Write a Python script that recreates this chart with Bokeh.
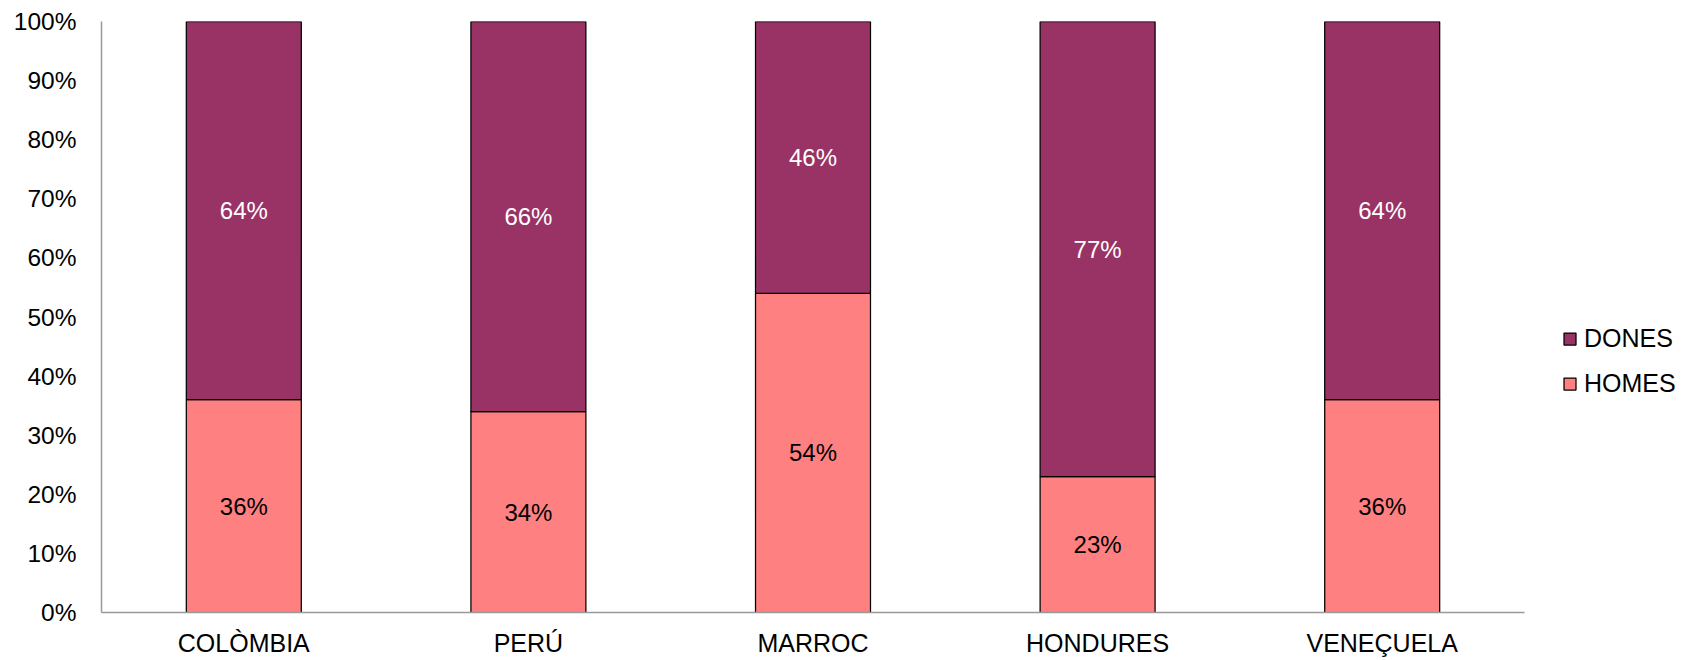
from bokeh.plotting import figure
from bokeh.models import (ColumnDataSource, Range1d, FixedTicker,
                          NumeralTickFormatter, Legend, LegendItem)
from bokeh.core.properties import value
from bokeh.embed import file_html
from bokeh.resources import INLINE

# ---- data ----
countries = ["COLÒMBIA", "PERÚ", "MARROC", "HONDURES", "VENEÇUELA"]
homes = [0.36, 0.34, 0.54, 0.23, 0.36]
dones = [0.64, 0.66, 0.46, 0.77, 0.64]
y_ticks = [0.0, 0.1, 0.2, 0.3, 0.4, 0.5, 0.6, 0.7, 0.8, 0.9, 1.0]

FONT = "Liberation Sans"
C_DONES = "#993366"
C_HOMES = "#FF8080"

# category slots on a numeric axis: one unit per country, centred at i + 0.5
xpos = [i + 0.5 for i in range(len(countries))]

src = ColumnDataSource(dict(
    x=xpos,
    country=countries,
    HOMES=homes,
    DONES=dones,
    homes_mid=[h / 2 for h in homes],
    dones_mid=[h + d / 2 for h, d in zip(homes, dones)],
    homes_lbl=[f"{round(h * 100)}%" for h in homes],
    dones_lbl=[f"{round(d * 100)}%" for d in dones],
))

W, H = 1699, 660
LEFT, TOP, BOTTOM = 101, 21, 48
FRAME_W_CATS = 1423          # pixels spanned by the five category slots
x_end = len(countries) * (W - LEFT) / FRAME_W_CATS

p = figure(width=W, height=H,
           x_range=Range1d(0, x_end),
           y_range=Range1d(0, 1),
           output_backend="svg", toolbar_location=None,
           min_border_left=LEFT, min_border_right=0,
           min_border_top=TOP, min_border_bottom=BOTTOM)

renderers = p.vbar_stack(["HOMES", "DONES"], x="x", width=0.404,
                         source=src, fill_color=[C_HOMES, C_DONES],
                         line_color="black", line_width=1.25)

p.text(x="x", y="homes_mid", text="homes_lbl", source=src,
       text_font=value(FONT), text_font_size="24px", text_color="#000000",
       text_align="center", text_baseline="middle")
p.text(x="x", y="dones_mid", text="dones_lbl", source=src,
       text_font=value(FONT), text_font_size="24px", text_color="#FFFFFF",
       text_align="center", text_baseline="middle")

# axes
p.xgrid.visible = False
p.ygrid.visible = False
p.outline_line_color = None
p.background_fill_color = "white"
p.border_fill_color = "white"

p.yaxis.ticker = FixedTicker(ticks=y_ticks)
p.yaxis.formatter = NumeralTickFormatter(format="0%")
p.xaxis.ticker = FixedTicker(ticks=xpos)
p.xaxis.major_label_overrides = {x: c for x, c in zip(xpos, countries)}
p.xaxis.bounds = (0, len(countries))
for ax in (p.xaxis[0], p.yaxis[0]):
    ax.axis_line_color = "#999999"
    ax.axis_line_width = 1.5
    ax.major_tick_out = 0
    ax.major_tick_in = 0
    ax.minor_tick_out = 0
    ax.minor_tick_in = 0
    ax.major_label_text_font = FONT
    ax.major_label_text_color = "#000000"
p.yaxis.major_label_text_font_size = "24.5px"
p.xaxis.major_label_text_font_size = "25px"
p.yaxis.major_label_standoff = 25
p.xaxis.major_label_standoff = 16

legend = Legend(items=[LegendItem(label="DONES", renderers=[renderers[1]]),
                       LegendItem(label="HOMES", renderers=[renderers[0]])],
                location=(1461, 214),
                orientation="vertical",
                glyph_width=15, glyph_height=15, label_standoff=7,
                label_text_font=FONT, label_text_font_size="25px",
                label_text_color="#000000",
                spacing=16, padding=0, margin=0,
                border_line_color=None, background_fill_alpha=0)
p.add_layout(legend, "center")

open("out.html", "w").write(file_html(p, INLINE))
